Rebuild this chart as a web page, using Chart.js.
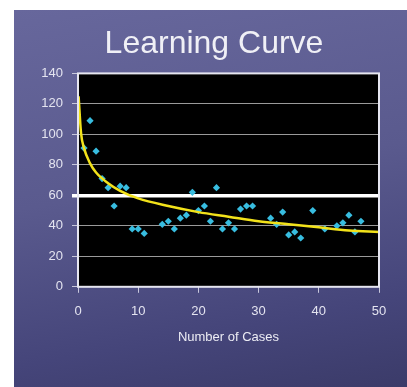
<!DOCTYPE html>
<html>
<head>
<meta charset="utf-8">
<script src="https://cdn.jsdelivr.net/npm/chart.js@4/dist/chart.umd.min.js"></script>
<style>
  html, body { margin: 0; padding: 0; background: #ffffff; }
  #wrap { position: absolute; left: 14px; top: 10px; width: 393px; height: 377px;
          background: linear-gradient(170deg, #67679c 0%, #5a5a8e 45%, #45457a 80%, #3b3b69 100%); }
  canvas { display: block; }
</style>
</head>
<body>
<div id="wrap"><canvas id="c" width="393" height="377"></canvas></div>
<script>
const chartTitle = "Learning Curve";
const xAxisTitle = "Number of Cases";
const yTicks = [0, 20, 40, 60, 80, 100, 120, 140];
const xTicks = [0, 10, 20, 30, 40, 50];
const caseNumbers = [1,2,3,4,5,6,7,8,9,10,11,14,15,16,17,18,19,20,21,22,23,24,25,26,27,28,29,32,33,34,35,36,37,39,41,43,44,45,46,47];
const caseTimes   = [91,109,89,71,65,53,66,65,38,38,35,41,43,38,45,47,62,50,53,43,65,38,42,38,51,53,53,45,41,49,34,36,32,50,38,40,42,47,36,43];
const trendX = [0.1,0.5,1,2,3,5,7,10,15,20,25,30,35,40,45,50];
const trendY = [125,101,91,81,75,68,63,58,53,49,46,43,41,39,37,36];
const highlightValue = 60;

const plotBg = {
  id: 'plotBg',
  beforeDraw(chart) {
    const {ctx, chartArea: a} = chart;
    ctx.save();
    ctx.fillStyle = '#000000';
    ctx.fillRect(a.left, a.top, a.right - a.left, a.bottom - a.top);
    ctx.restore();
  },
  afterDraw(chart) {
    const {ctx, chartArea: a} = chart;
    ctx.save();
    ctx.strokeStyle = '#e6e6f0';
    ctx.lineWidth = 2;
    ctx.strokeRect(a.left, a.top, a.right - a.left, a.bottom - a.top);
    ctx.restore();
  }
};

new Chart(document.getElementById('c'), {
  type: 'scatter',
  data: {
    datasets: [
      {
        label: 'Trend',
        type: 'line',
        data: trendX.map((x, i) => ({x: x, y: trendY[i]})),
        borderColor: '#f2e21a',
        borderWidth: 2.5,
        pointRadius: 0,
        cubicInterpolationMode: 'monotone',
        fill: false,
        order: 1
      },
      {
        label: 'Cases',
        data: caseNumbers.map((x, i) => ({x: x, y: caseTimes[i]})),
        pointStyle: 'rectRot',
        pointRadius: 3.6,
        backgroundColor: '#38bde0',
        borderColor: '#38bde0',
        borderWidth: 0,
        order: 2
      }
    ]
  },
  options: {
    responsive: false,
    animation: false,
    layout: { padding: { top: 6, left: 7, right: 0, bottom: 42 } },
    plugins: {
      legend: { display: false },
      tooltip: { enabled: false },
      title: {
        display: true,
        text: chartTitle,
        color: '#f0f0f6',
        font: { family: 'Liberation Sans, Arial, sans-serif', size: 32, weight: 'normal' },
        padding: { top: 9, bottom: 10 }
      }
    },
    scales: {
      x: {
        type: 'linear',
        min: 0, max: 50,
        afterBuildTicks(s) { s.ticks = xTicks.map(v => ({value: v})); },
        ticks: { color: '#e4e4f0', font: { family: 'Liberation Sans, Arial, sans-serif', size: 13 }, padding: 11 },
        grid: { display: true, drawOnChartArea: false, drawTicks: true, tickLength: 6, color: '#c8c8dc', lineWidth: 1 },
        border: { display: false },
        title: { display: true, text: xAxisTitle, color: '#ececf4', font: { family: 'Liberation Sans, Arial, sans-serif', size: 13 }, padding: { top: -1, bottom: 0 } }
      },
      y: {
        type: 'linear',
        min: 0, max: 140,
        afterBuildTicks(s) { s.ticks = yTicks.map(v => ({value: v})); },
        afterFit(s) { s.width = 57; },
        ticks: { color: '#e4e4f0', font: { family: 'Liberation Sans, Arial, sans-serif', size: 13 }, padding: 9 },
        grid: {
          drawTicks: true, tickLength: 6,
          color: c => c.tick && c.tick.value === highlightValue ? '#ffffff' : '#9a9a9a',
          lineWidth: c => c.tick && c.tick.value === highlightValue ? 3.5 : 1,
          tickColor: c => c.tick && c.tick.value === highlightValue ? '#ffffff' : '#c8c8dc',
          tickWidth: c => c.tick && c.tick.value === highlightValue ? 3.5 : 1
        },
        border: { display: false }
      },
      y2: {
        type: 'linear', position: 'right', min: 0, max: 140,
        afterFit(s) { s.width = 28; },
        ticks: { display: false },
        grid: { display: false, drawTicks: false },
        border: { display: false }
      }
    }
  },
  plugins: [plotBg]
});
</script>
</body>
</html>
